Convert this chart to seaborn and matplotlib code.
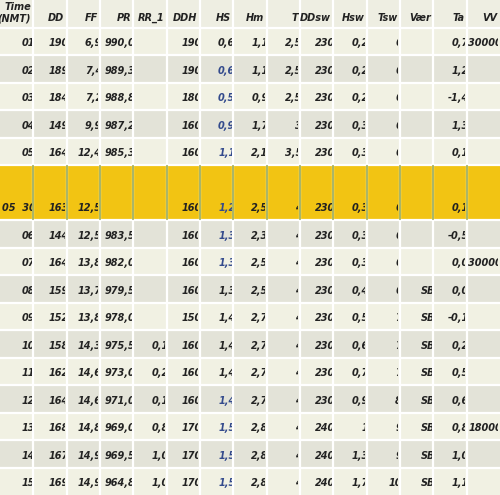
import numpy as np
import pandas as pd
import seaborn as sns
import matplotlib
matplotlib.use("Agg")
import matplotlib.pyplot as plt
from matplotlib.colors import ListedColormap
from matplotlib.transforms import Bbox, TransformedBbox

columns = ["Time\n(NMT)", "DD", "FF", "PR", "RR_1", "DDH", "HS", "Hm", "T", "DDsw", "Hsw", "Tsw", "Vær", "Ta", "VV"]
time = ["01", "02", "03", "04", "05", "05  30", "06", "07", "08", "09", "10", "11", "12", "13", "14", "15"]
dd = ["190", "189", "184", "149", "164", "163", "144", "164", "159", "152", "158", "162", "164", "168", "167", "169"]
ff = ["6,9", "7,4", "7,2", "9,9", "12,4", "12,5", "12,5", "13,8", "13,7", "13,8", "14,3", "14,6", "14,6", "14,8", "14,9", "14,9"]
pr = ["990,0", "989,3", "988,8", "987,2", "985,3", "", "983,5", "982,0", "979,5", "978,0", "975,5", "973,0", "971,0", "969,0", "969,5", "964,8"]
rr1 = ["", "", "", "", "", "", "", "", "", "", "0,1", "0,2", "0,1", "0,8", "1,0", "1,0"]
ddh = ["190", "190", "180", "160", "160", "160", "160", "160", "160", "150", "160", "160", "160", "170", "170", "170"]
hs = ["0,6", "0,6", "0,5", "0,9", "1,1", "1,2", "1,3", "1,3", "1,3", "1,4", "1,4", "1,4", "1,4", "1,5", "1,5", "1,5"]
hs_blue = [False, True, True, True, True, True, True, True, False, False, False, False, True, True, True, True]
hm = ["1,1", "1,1", "0,9", "1,7", "2,1", "2,5", "2,3", "2,5", "2,5", "2,7", "2,7", "2,7", "2,7", "2,8", "2,8", "2,8"]
t = ["2,5", "2,5", "2,5", "3", "3,5", "4", "4", "4", "4", "4", "4", "4", "4", "4", "4", "4"]
ddsw = ["230"] * 13 + ["240"] * 3
hsw = ["0,2", "0,2", "0,2", "0,3", "0,3", "0,3", "0,3", "0,3", "0,4", "0,5", "0,6", "0,7", "0,9", "1", "1,3", "1,7"]
tsw = ["6", "6", "6", "6", "6", "6", "6", "6", "6", "7", "7", "7", "8", "9", "9", "10"]
vaer = [""] * 8 + ["SB"] * 8
ta = ["0,7", "1,2", "-1,4", "1,3", "0,1", "0,1", "-0,5", "0,0", "0,0", "-0,1", "0,2", "0,5", "0,6", "0,8", "1,0", "1,1"]
vv = ["30000", "", "", "", "", "", "", "30000", "", "", "", "", "", "18000", "", ""]
highlight = "05  30"

table = [time, dd, ff, pr, rr1, ddh, hs, hm, t, ddsw, hsw, tsw, vaer, ta, vv]
ncol = len(columns)

codes = [0]
row_pos = []
shade = 1
for i, tm in enumerate(time):
    if tm == highlight:
        codes += [3, 3]
        row_pos.append(len(codes) - 1)
    else:
        codes.append(shade)
        row_pos.append(len(codes) - 1)
        shade = 2 if shade == 1 else 1
nrow = len(codes)
mat = pd.DataFrame(np.repeat(np.array(codes)[:, None], ncol, axis=1))

cmap = ListedColormap(["#eeeee2", "#f1f1e3", "#e3e3d8", "#f2c413"])
fig = plt.figure(figsize=(5.0, 4.95), dpi=100)
ax = fig.add_axes([0, 0, 1, 1])
sns.heatmap(mat, cmap=cmap, vmin=-0.5, vmax=3.5, cbar=False, ax=ax,
            xticklabels=False, yticklabels=False)
ax.set_xlim(0, ncol)
ax.set_ylim(nrow, 0)

for r in range(1, nrow):
    if codes[r] == 3 and codes[r - 1] == 3:
        continue
    ax.axhline(r, color="white", lw=1.6)
for c in range(1, ncol):
    ax.axvline(c, color="white", lw=1.6)
hr = [i for i, c in enumerate(codes) if c == 3]
for c in range(1, ncol):
    ax.plot([c, c], [hr[0] + 0.03, hr[-1] + 0.97], color="#9aa84a", lw=1.2)

fs = 7.0
for c, name in enumerate(columns):
    txt = ax.text(c + 0.93, 0.85, name, ha="right", va="bottom", fontsize=fs,
                  fontstyle="italic", fontweight="bold", color="#222222", linespacing=1.2)
    txt.set_clip_on(True)
    txt.set_clip_box(TransformedBbox(Bbox([[c, 0], [c + 0.97, 1]]), ax.transData))
for c, col in enumerate(table):
    for i, val in enumerate(col):
        if not val:
            continue
        r = row_pos[i]
        color = "#334a8c" if (c == 6 and hs_blue[i]) else "#222222"
        txt = ax.text(c + 1.06, r + 0.75, val, ha="right", va="bottom", fontsize=fs,
                      fontstyle="italic", fontweight="bold", color=color)
        txt.set_clip_on(True)
        txt.set_clip_box(TransformedBbox(Bbox([[c, r], [c + 0.95, r + 1]]), ax.transData))
ax.axis("off")
fig.savefig("out.png", dpi=100)
